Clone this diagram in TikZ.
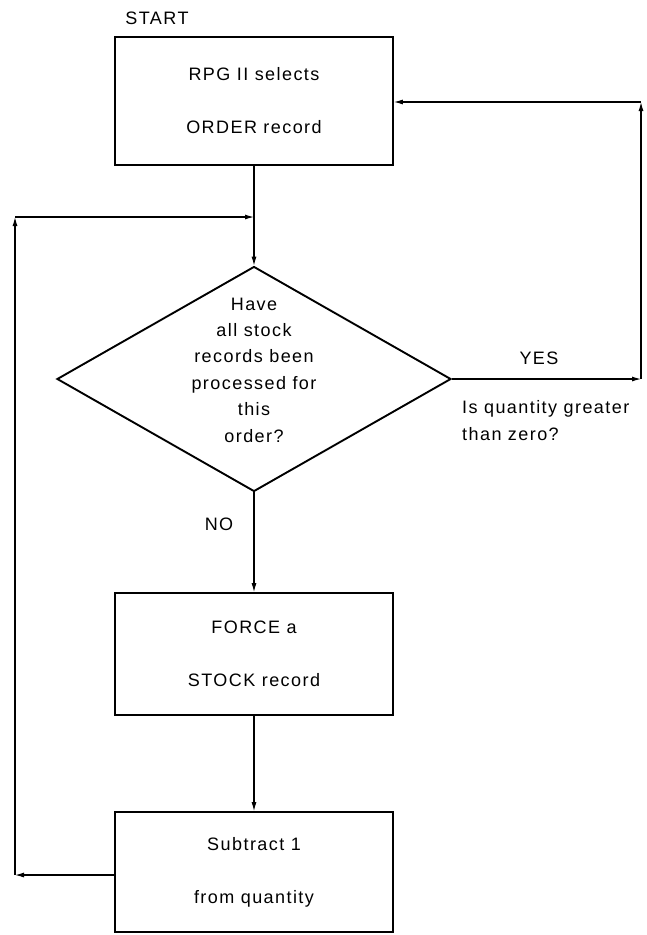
\documentclass[tikz,border=0pt]{standalone}
\usepackage{fontspec}
\setmainfont{Liberation Sans}[LetterSpace=8]
\usetikzlibrary{arrows.meta,shapes.geometric}
\begin{document}
\begin{tikzpicture}[x=1pt,y=-1pt,
  box/.style={draw, line width=1.7pt, minimum width=278pt, inner sep=0pt, align=center, font=\fontsize{18}{53}\selectfont},
  diam/.style={draw, shape=diamond, line width=1.9pt, minimum width=394pt, minimum height=225pt, inner sep=0pt},
  dtext/.style={align=center, inner sep=0pt, font=\fontsize{18}{26.4}\selectfont},
  lbl/.style={inner sep=0pt, font=\fontsize{18}{27}\selectfont},
  conn/.style={line width=1.1pt, -{Latex[length=9pt,width=5pt]}}]
\useasboundingbox (0,0) rectangle (647,935);
\node[lbl] (start) at (157,18) {START};
\node[box, minimum height=128pt] (b1) at (254,101) {RPG II selects\\ORDER record};
\node[diam] (d) at (254,379) {};
\node[dtext] (dt) at (254,370) {Have\\all stock\\records been\\processed for\\this\\order?};
\node[lbl] (yes) at (539,358) {YES};
\node[lbl, anchor=west, align=left] (q) at (462,421) {Is quantity greater\\than zero?};
\node[lbl] (no) at (219,524) {NO};
\node[box, minimum height=122pt] (f) at (254,654) {FORCE a\\STOCK record};
\node[box, minimum height=120pt] (s) at (254,872) {Subtract 1\\from quantity};
\coordinate (lb) at (15,875);
\coordinate (lt) at (15,217);
\coordinate (jn) at (254,217);
\coordinate (re) at (641,379);
\coordinate (rt) at (641,102);
\draw[conn] (b1.south) -- (d.north);
\draw[conn] (s.west |- lb) -- (lb);
\draw[conn] (lb) -- (lt);
\draw[conn] (lt) -- (jn);
\draw[conn] (d.east) -- (re);
\draw[conn] (re) -- (rt);
\draw[conn] (rt) -- (b1.east |- rt);
\draw[conn] (d.south) -- (f.north);
\draw[conn] (f.south) -- (s.north);
\end{tikzpicture}
\end{document}
